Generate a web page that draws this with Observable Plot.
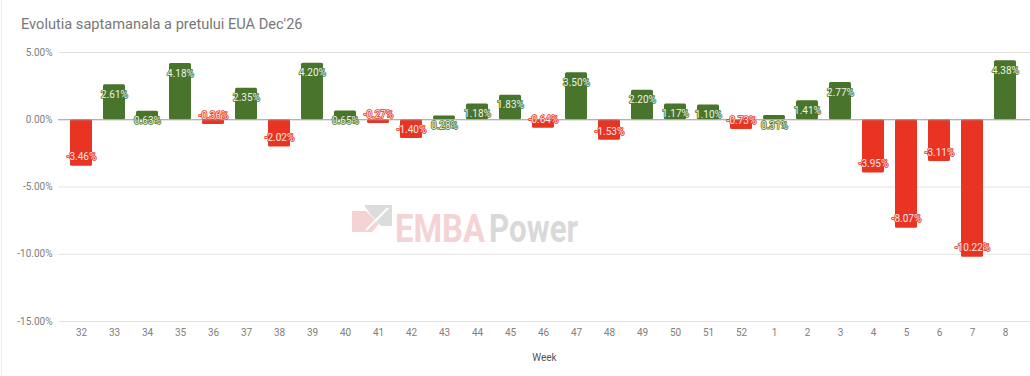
<!DOCTYPE html>
<html><head><meta charset="utf-8">
<script src="https://cdn.jsdelivr.net/npm/d3@7"></script>
<script src="https://cdn.jsdelivr.net/npm/@observablehq/plot@0.6"></script>
<style>
body{margin:0;background:#fff;font-family:Roboto,sans-serif}
#wrap{position:relative;width:1030px;height:376px;overflow:hidden;background:#fff}
#border{position:absolute;left:1px;top:0;width:1px;height:376px;background:#ececec}
#title{position:absolute;left:21px;top:16px;font-size:14.6px;line-height:17px;color:#777;white-space:nowrap;z-index:2}
#wm{position:absolute;left:0;top:0;z-index:0}
#chart{position:absolute;left:0;top:0;z-index:1}
</style></head><body>
<div id="wrap">
<div id="border"></div>
<svg id="wm" width="1030" height="376">
  <polygon points="352,211 366,211 379,224 372,232 352,232" fill="#f3d3d3"/>
  <polygon points="364,205 392,205 392,226 381,226 370,214" fill="#dcdcdc"/>
  <path d="M366,230 L388,208" stroke="#fff" stroke-width="2"/>
  <text x="395" y="242" font-family="Roboto" font-weight="bold" font-size="38" fill="#f3d3d3" textLength="90" lengthAdjust="spacingAndGlyphs">EMBA</text>
  <text x="489" y="242" font-family="Roboto" font-weight="bold" font-size="38" fill="#d9d9d9" textLength="89" lengthAdjust="spacingAndGlyphs">Power</text>
</svg>
<div id="title">Evolutia saptamanala a pretului EUA Dec'26</div>
<div id="chart"></div>
</div>
<script>
const weeks = ["32","33","34","35","36","37","38","39","40","41","42","43","44","45","46","47","48","49","50","51","52","1","2","3","4","5","6","7","8"];
const changes = [-3.46,2.61,0.63,4.18,-0.36,2.35,-2.02,4.20,0.65,-0.27,-1.40,0.28,1.18,1.83,-0.64,3.50,-1.53,2.20,1.17,1.10,-0.73,0.31,1.41,2.77,-3.95,-8.07,-3.11,-10.22,4.38];
const yTicks = [5,0,-5,-10,-15];
const axisTitle = "Week";

const data = weeks.map((w,i)=>({week:w, change:changes[i]}));
const green = "#48752b", red = "#e93424";
const pct = d => d.toFixed(2) + "%";

const chart = Plot.plot({
  width: 1030, height: 376,
  marginTop: 52, marginBottom: 55, marginLeft: 58, marginRight: 0,
  style: {fontFamily: "Roboto, sans-serif", fontSize: "10px", color: "#757575", background: "transparent"},
  x: {type: "band", domain: weeks, range: [62.4, 1023.6], paddingInner: 0.33, paddingOuter: 0.165, label: null},
  y: {domain: [-15, 5], label: null},
  marks: [
    Plot.ruleY(yTicks.filter(d => d !== 0), {stroke: "#e3e3e3", strokeWidth: 1}),
    Plot.barY(data, {x: "week", y: "change", fill: d => d.change < 0 ? red : green, rx: 1.5}),
    Plot.ruleY([0], {stroke: "#9a9a9a", strokeWidth: 1}),
    Plot.axisY(yTicks, {tickSize: 0, tickPadding: 6, tickFormat: pct, fill: "#808080", label: null}),
    Plot.axisX({tickSize: 0, tickPadding: 7, fill: "#808080", label: null}),
    Plot.text([axisTitle], {frameAnchor: "bottom", dy: 39, text: d => d, fill: "#555", fontSize: 10}),
    Plot.text(data.filter(d => d.change >= 0), {x: "week", y: "change", text: d => pct(d.change), dy: 10, fill: "#eef3ea", stroke: green, strokeWidth: 1.6, fontSize: 10}),
    Plot.text(data.filter(d => d.change < 0), {x: "week", y: "change", text: d => pct(d.change), dy: -9, fill: "#fde8e6", stroke: red, strokeWidth: 1.6, fontSize: 10})
  ]
});
document.getElementById("chart").appendChild(chart);
</script>
</body></html>
